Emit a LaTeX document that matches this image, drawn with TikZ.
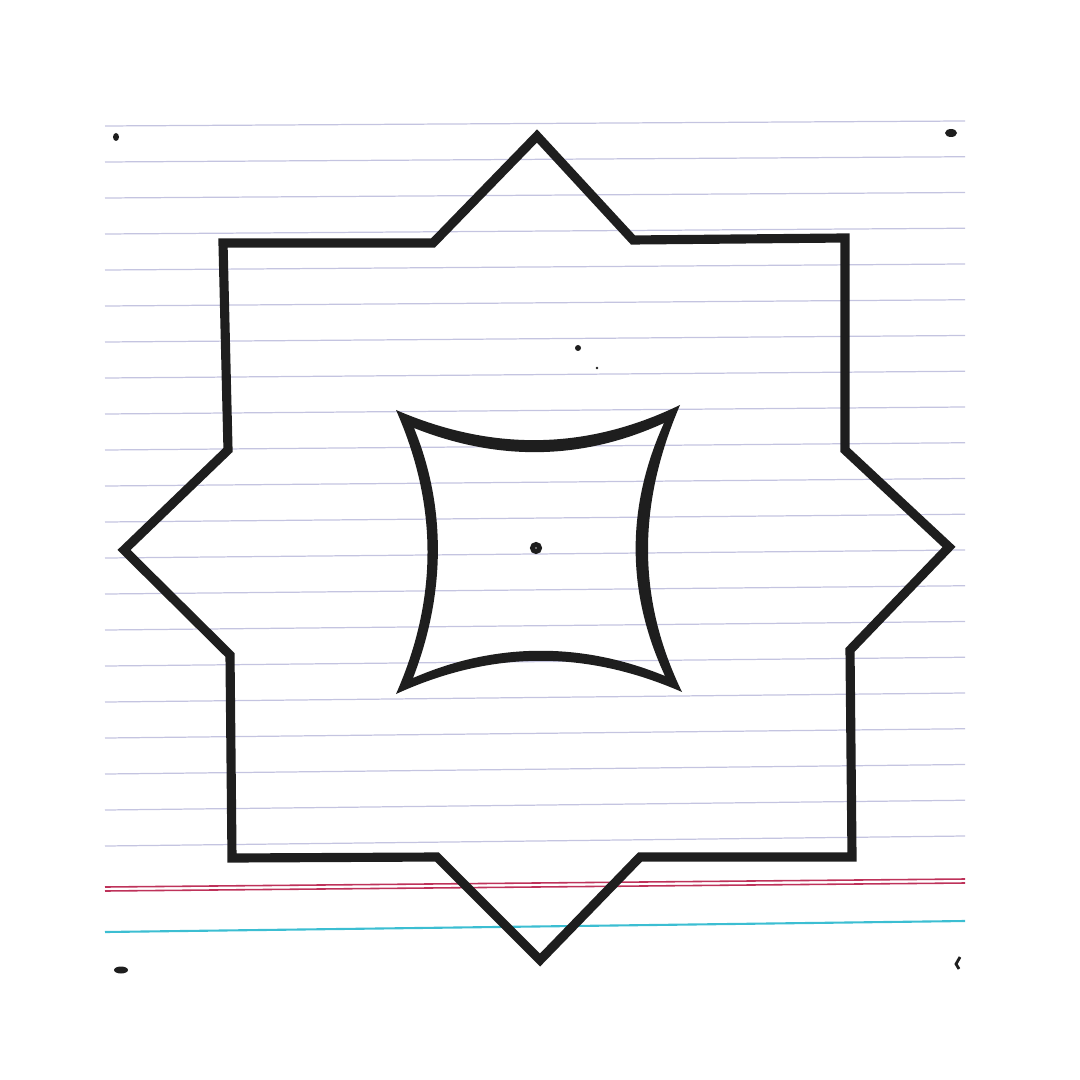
\documentclass[tikz,border=0pt]{standalone}
\begin{document}
\begin{tikzpicture}[x=0.01cm,y=-0.01cm,
  paperline/.style={draw={rgb,255:red,196;green,196;blue,224},line width=0.35pt},
  redline/.style={draw={rgb,255:red,190;green,50;blue,90},line width=0.45pt},
  cyanline/.style={draw={rgb,255:red,60;green,190;blue,210},line width=0.6pt},
  ink/.style={draw={rgb,255:red,30;green,30;blue,30},line width=2.6pt,line join=miter},
  inkfill/.style={fill={rgb,255:red,30;green,30;blue,30}}]
\useasboundingbox (0,0) rectangle (1080,1080);
% ruled paper
\foreach \i in {0,...,20}{
  \draw[paperline] (105,{126+36*\i}) -- (965,{121+36*\i-0.25*\i});
}
\draw[redline] (105,887) -- (965,879);
\draw[redline] (105,891) -- (965,883);
\draw[cyanline] (105,932) -- (965,921);
% corner marks
\fill[inkfill] (116,137) ellipse (3 and 4);
\fill[inkfill] (951,133) ellipse (6 and 4);
\fill[inkfill] (121,970) ellipse (7 and 3.5);
\draw[ink,line width=0.8pt] (960,957) -- (956,964) -- (959,969);
% specks
\fill[inkfill] (578,348) circle (3);
\fill[inkfill] (597,368) circle (1.3);
% outer eight-pointed star
\draw[ink] (537,136) -- (633,240) -- (845,238) -- (845,450) -- (949,547)
  -- (850,650) -- (852,857) -- (640,857) -- (540,960) -- (437,857)
  -- (232,858) -- (230,655) -- (124,550) -- (228,450) -- (223,243)
  -- (433,243) -- cycle;
% inner concave square (tapered stroke)
\fill[inkfill,even odd rule]
  (396,410) .. controls (491,451) and (585,451) .. (680,405)
  .. controls (637,505) and (637,599) .. (682,692)
  .. controls (586,650) and (492,650) .. (396,694)
  .. controls (438,599) and (438,505) .. (396,410) -- cycle
  (414,428) .. controls (497,461) and (581,461) .. (664,423)
  .. controls (626,507) and (626,592) .. (665,676)
  .. controls (582,642) and (496,642) .. (413,678)
  .. controls (446,593) and (446,506) .. (414,428) -- cycle;
% centre dot
\draw[ink,line width=1.4pt] (536,548) circle (3.5);
\end{tikzpicture}
\end{document}
